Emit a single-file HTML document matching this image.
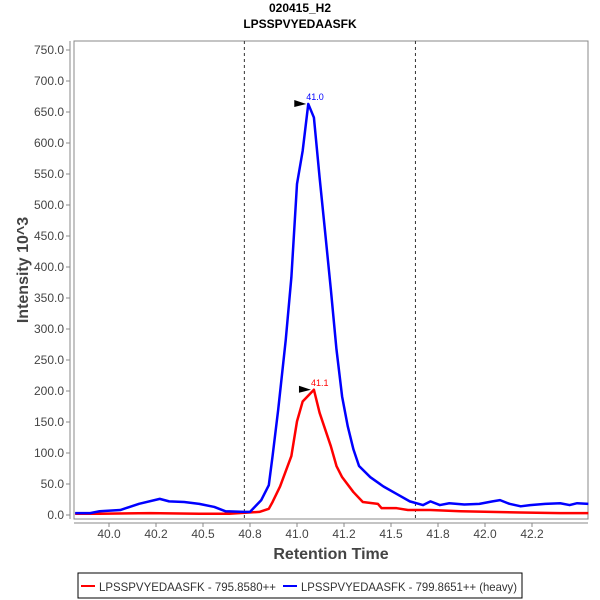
<!DOCTYPE html>
<html><head><meta charset="utf-8"><style>
body{margin:0;background:#fff;font-family:"Liberation Sans",sans-serif}
svg{display:block}
</style></head><body>
<svg id="chart" width="600" height="600" viewBox="0 0 600 600">
<text x="300" y="12" text-anchor="middle" font-size="12" font-weight="bold">020415_H2</text>
<text x="300" y="28" text-anchor="middle" font-size="12" font-weight="bold">LPSSPVYEDAASFK</text>
<rect x="74" y="41" width="514" height="478" fill="#fff" stroke="#888"/>
<line x1="70" y1="41" x2="70" y2="519" stroke="#888"/>
<line x1="74" y1="523" x2="588" y2="523" stroke="#888"/>
<g id="yticks"></g><g id="xticks"></g><g id="marks"></g>
<text transform="translate(28,270) rotate(-90)" text-anchor="middle" font-size="16" font-weight="bold" fill="#444">Intensity 10^3</text>
<text x="331" y="559" text-anchor="middle" font-size="16" font-weight="bold" fill="#444">Retention Time</text>
<g>
<rect x="78" y="573" width="444" height="25" fill="#fff" stroke="#000"/>
<line x1="81" y1="586" x2="95" y2="586" stroke="#f00" stroke-width="2"/>
<text x="99" y="591" font-size="12" fill="#333" textLength="177" lengthAdjust="spacingAndGlyphs">LPSSPVYEDAASFK - 795.8580++</text>
<line x1="283" y1="586" x2="297" y2="586" stroke="#00f" stroke-width="2"/>
<text x="301" y="591" font-size="12" fill="#333" textLength="216" lengthAdjust="spacingAndGlyphs">LPSSPVYEDAASFK - 799.8651++ (heavy)</text>
</g>
</svg>
<script>
const yTicks=[0,50,100,150,200,250,300,350,400,450,500,550,600,650,700,750];
const xTicks=[40.0,40.25,40.5,40.75,41.0,41.25,41.5,41.75,42.0,42.25];
const xTickLabels=["40.0","40.2","40.5","40.8","41.0","41.2","41.5","41.8","42.0","42.2"];
const blueTimes=[39.82,39.90,39.95,40.06,40.16,40.27,40.32,40.40,40.48,40.56,40.62,40.72,40.75,40.81,40.85,40.87,40.90,40.94,40.97,41.00,41.03,41.06,41.09,41.12,41.15,41.18,41.21,41.24,41.27,41.30,41.33,41.39,41.46,41.53,41.60,41.67,41.71,41.76,41.81,41.89,41.97,42.04,42.08,42.13,42.19,42.24,42.32,42.40,42.45,42.49,42.55];
const blueValues=[3,3,6,8,18,26,22,21,18,13,6,5,5,24,48,95,170,282,383,534,587,663,641,545,455,364,267,191,143,106,79,61,46,34,22,16,22,16,19,17,18,22,24,18,14,16,18,19,16,19,18];
const redTimes=[39.82,39.95,40.22,40.48,40.64,40.80,40.85,40.87,40.91,40.97,41.00,41.03,41.09,41.12,41.18,41.21,41.24,41.30,41.35,41.43,41.45,41.53,41.59,41.71,41.87,42.03,42.19,42.40,42.55];
const redValues=[2,2,3,2,2,5,10,21,46,95,151,183,202,165,111,79,61,37,21,18,11,11,8,8,6,5,4,3,3];
const boundaries=[40.72,41.63];
const peaks=[{t:41.06,v:663,label:"41.0",color:"#00f"},{t:41.085,v:202,label:"41.1",color:"#f00"}];
const NS="http://www.w3.org/2000/svg";
const xs=t=>109+(t-40)*188;
const ys=v=>515-v*0.62;
function mk(tag,attrs,parent){const e=document.createElementNS(NS,tag);for(const k in attrs)e.setAttribute(k,attrs[k]);parent.appendChild(e);return e;}
const yg=document.getElementById('yticks'),xg=document.getElementById('xticks'),mg=document.getElementById('marks');
yTicks.forEach(v=>{
 const l=mk('line',{x1:66,x2:70,y1:ys(v),y2:ys(v),stroke:'#888'},yg);
 
 
 const t=mk('text',{x:64,y:ys(v)+4,'text-anchor':'end','font-size':12,fill:'#444'},yg);
 t.textContent=v.toFixed(1);
 
 
});
xTicks.forEach((v,i)=>{
 const l=mk('line',{x1:xs(v),x2:xs(v),y1:523,y2:527,stroke:'#888'},xg);
 
 
 const t=mk('text',{x:xs(v),y:538,'text-anchor':'middle','font-size':12,fill:'#444'},xg);
 t.textContent=xTickLabels[i];
 
 
});
boundaries.forEach(b=>{
 const l=mk('line',{x1:xs(b),x2:xs(b),y1:41,y2:519,stroke:'#333','stroke-dasharray':'3,3'},mg);
 
 
});
function series(ts,vs,color,name){
 const p=mk('polyline',{points:ts.map((t,i)=>xs(t)+','+ys(vs[i])).join(' '),fill:'none',stroke:color,'stroke-width':2.5,'stroke-linejoin':'round'},mg);
 
 
}
series(redTimes,redValues,'#f00','series-light');
series(blueTimes,blueValues,'#00f','series-heavy');
peaks.forEach(pk=>{
 const x=xs(pk.t),y=ys(pk.v);
 const a=mk('polygon',{points:`${x-14},${y-4} ${x-2},${y} ${x-14},${y+3}`,fill:'#000'},mg);
 
 
 const t=mk('text',{x:x-2,y:y-4,'font-size':9,fill:pk.color},mg);
 t.textContent=pk.label;
 
 
});
</script>
</body></html>
